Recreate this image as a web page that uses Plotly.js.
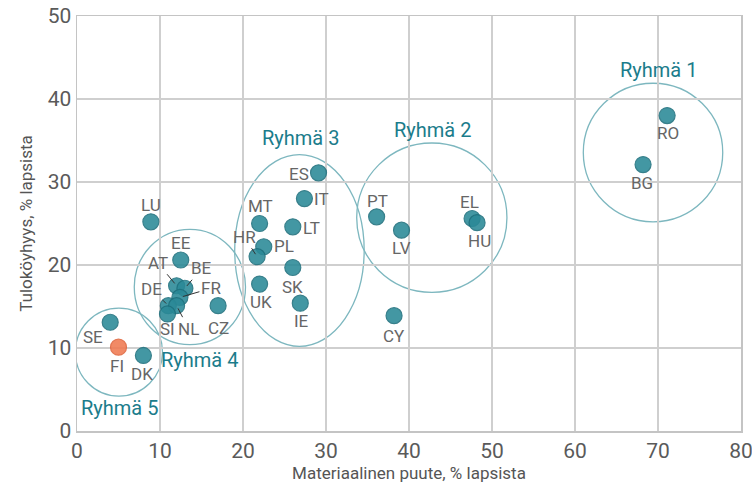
<!DOCTYPE html>
<html>
<head>
<meta charset="utf-8">
<script src="https://cdn.plot.ly/plotly-3.0.1.min.js"></script>
<style>html,body{margin:0;padding:0;background:#fff}#chart{width:752px;height:495px}</style>
</head>
<body>
<div id="chart"></div>
<script>
// Data
const countries = ["RO","BG","EL","HU","PT","LV","CY","ES","IT","LT","MT","PL","HR","SK","UK","IE","LU","EE","AT","BE","FR","DE","NL","SI","CZ","SE","FI","DK"];
const deprivation = [71.1,68.2,47.6,48.2,36.1,39.1,38.2,29.1,27.4,26.0,22.0,22.5,21.7,26.0,22.0,26.9,8.9,12.5,12.0,13.0,12.4,11.0,12.0,10.9,17.0,4.0,5.0,8.0];
const poverty = [38.0,32.1,25.6,25.1,25.8,24.2,13.9,31.1,28.0,24.6,25.0,22.2,21.0,19.7,17.7,15.4,25.2,20.6,17.5,17.2,16.1,15.1,15.1,14.1,15.1,13.1,10.1,9.1];
const highlight = ["FI"];

const groupNames = ["Ryhmä 1","Ryhmä 2","Ryhmä 3","Ryhmä 4","Ryhmä 5"];
const groupX0 = [61.0,33.7,19.0,6.9,-0.2];
const groupX1 = [77.8,51.8,34.6,20.3,10.3];
const groupY0 = [25.2,16.7,10.2,10.4,4.2];
const groupY1 = [41.9,34.7,33.3,24.3,14.8];
const groupLabelX = [70.0,42.8,26.9,14.8,5.1];
const groupLabelY = [43.5,36.3,35.3,8.6,2.8];

const xTicks = [0,10,20,30,40,50,60,70,80];
const yTicks = [0,10,20,30,40,50];

// Label placement (pixel offsets of label centre from point)
const labelOffset = {
  RO:[1,-17], BG:[-1,-18], EL:[-3,17], HU:[2,-18], PT:[1,16], LV:[0,-18], CY:[0,-20],
  ES:[-20,-1], IT:[17,0], LT:[19,-1], MT:[1,18], PL:[20,1], SK:[0,-20], UK:[1,-18],
  IE:[1,-18], LU:[0,17], EE:[0,17], SI:[0,-15], CZ:[0,-22], SE:[-17,-15], FI:[-2,-19], DK:[-1,-19]
};
const leaderOffset = { HR:[-13,20], AT:[-19,23], BE:[17,20], FR:[31,9], DE:[-17,17], NL:[12,-23] };

const teal = "#2a8997", tealEdge = "#1d6f7c", orange = "#f07a52", orangeEdge = "#e0653c";
const FONT = "Liberation Sans Narrow, Arial Narrow, Roboto, sans-serif";

const colors = countries.map(c => highlight.includes(c) ? orange : teal);
const edges = countries.map(c => highlight.includes(c) ? orangeEdge : tealEdge);

const trace = {
  type: "scatter", mode: "markers",
  x: deprivation, y: poverty, text: countries, hoverinfo: "text",
  marker: {size: 16, color: colors, opacity: 0.88, line: {color: edges, width: 1.2}},
  cliponaxis: false
};

const annotations = [];
countries.forEach((c, i) => {
  if (labelOffset[c]) {
    annotations.push({x: deprivation[i], y: poverty[i], text: c, showarrow: false,
      xshift: labelOffset[c][0], yshift: labelOffset[c][1],
      font: {family: FONT, size: 17, color: "#666"}});
  } else if (leaderOffset[c]) {
    annotations.push({x: deprivation[i], y: poverty[i], text: c, showarrow: true,
      ax: leaderOffset[c][0], ay: -leaderOffset[c][1], arrowhead: 0, arrowwidth: 1,
      arrowcolor: "#333", standoff: 3, startstandoff: 0,
      font: {family: FONT, size: 17, color: "#666"}});
  }
});
groupNames.forEach((g, i) => {
  annotations.push({x: groupLabelX[i], y: groupLabelY[i], text: g, showarrow: false,
    font: {family: FONT, size: 20, color: "#1b7c8b"}});
});

const shapes = groupNames.map((g, i) => ({
  type: "circle", xref: "x", yref: "y",
  x0: groupX0[i], x1: groupX1[i], y0: groupY0[i], y1: groupY1[i],
  line: {color: "#7db7bf", width: 1.3}, layer: "below"
}));

const layout = {
  width: 752, height: 495,
  margin: {l: 77, r: 11, t: 16, b: 64},
  paper_bgcolor: "#fff", plot_bgcolor: "#fff",
  showlegend: false,
  font: {family: FONT, color: "#555"},
  xaxis: {range: [0, 80], tickvals: xTicks, ticktext: xTicks.map(String),
    showgrid: true, gridcolor: "#cfcfcf", gridwidth: 1.3, zeroline: false,
    showline: true, mirror: true, linecolor: "#c4c4c4", linewidth: 1.5, ticks: "",
    ticklabeloverflow: "allow",
    tickfont: {family: FONT, size: 21, color: "#5a5a5a"},
    title: {text: "Materiaalinen puute, % lapsista", font: {family: FONT, size: 17, color: "#555"}, standoff: 2}},
  yaxis: {range: [0, 50], tickvals: yTicks, ticktext: yTicks.map(String),
    showgrid: true, gridcolor: "#cfcfcf", gridwidth: 1.3, zeroline: false,
    showline: true, mirror: true, linecolor: "#c4c4c4", linewidth: 1.5, ticks: "",
    ticklabeloverflow: "allow",
    tickfont: {family: FONT, size: 21, color: "#5a5a5a"},
    title: {text: "Tuloköyhyys, % lapsista", font: {family: FONT, size: 17, color: "#555"}, standoff: 10}},
  annotations: annotations,
  shapes: shapes
};

Plotly.newPlot("chart", [trace], layout, {displayModeBar: false, staticPlot: true});
</script>
</body>
</html>
